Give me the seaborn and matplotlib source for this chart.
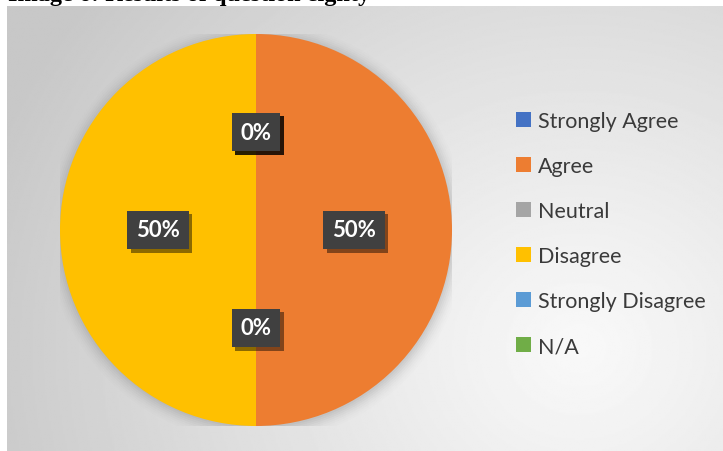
import numpy as np
import matplotlib
matplotlib.use("Agg")
import matplotlib.pyplot as plt
import matplotlib.patheffects as pe
from matplotlib.patches import Patch, Circle
import seaborn as sns

# Survey responses
categories = ["Strongly Agree", "Agree", "Neutral", "Disagree", "Strongly Disagree", "N/A"]
counts = [0, 1, 0, 1, 0, 0]
pct_labels = ["0%", "50%", "0%", "50%", "0%", "0%"]
colors = ["#4472C4", "#ED7D31", "#A5A5A5", "#FFC000", "#5B9BD5", "#70AD47"]
title = "Image 6: Results of question eighty"

sns.set_theme(style="white")
plt.rcParams["font.family"] = ["Lato", "DejaVu Sans"]

W, H = 723, 452
fig = plt.figure(figsize=(W / 100, H / 100), dpi=100)
fig.patch.set_facecolor("white")

# chart frame with radial grey gradient
x0, y0 = 7, 7
bg = fig.add_axes([x0 / W, 0, (W - x0) / W, (H - y0) / H])
bg.set_axis_off()
gx, gy = np.meshgrid(np.linspace(x0, W, 400), np.linspace(y0, H, 300))
cx, cy = 580, 350
d = np.hypot(gx - cx, (gy - cy) * 1.1)
shade = 0.975 - 0.19 * np.clip(d / 620, 0, 1) ** 1.1
bg.imshow(shade, cmap="gray", vmin=0, vmax=1, extent=[0, 1, 0, 1],
          aspect="auto", interpolation="bilinear")
bg.set_xlim(0, 1)
bg.set_ylim(0, 1)

# page caption above the chart frame (runs off the top of the page)
fig.text(8 / W, 1 - 0.5 / H, title, family=["Liberation Serif"], weight="bold",
         fontsize=17.5, va="baseline", ha="left", color="black", zorder=0)

# pie axes: centre (256, 231), radius 196 px
r = 196
pcx, pcy = 256, 231
ax = fig.add_axes([(pcx - r) / W, (H - pcy - r) / H, 2 * r / W, 2 * r / H])
ax.set_axis_off()

# soft shadow around the pie
for k, a in zip(np.linspace(1.07, 1.0, 8), np.linspace(0.006, 0.03, 8)):
    ax.add_patch(Circle((0.005, -0.01), k, color="black", alpha=a, lw=0, zorder=0))

wedges, texts = ax.pie(counts, colors=colors, startangle=90, counterclock=False,
                       radius=1.0, labels=pct_labels, labeldistance=0.5,
                       wedgeprops=dict(linewidth=0, zorder=1))
for t in texts:
    t.set_color("white")
    t.set_fontsize(16)
    t.set_fontweight("bold")
    t.set_ha("center")
    t.set_va("center")
    t.set_zorder(5)
    t.set_bbox(dict(boxstyle="square,pad=0.4", fc="#404040", ec="none"))
    t.get_bbox_patch().set_path_effects(
        [pe.SimplePatchShadow(offset=(2.5, -2.5), shadow_rgbFace="black", alpha=0.45),
         pe.Normal()])
ax.set_xlim(-1, 1)
ax.set_ylim(-1, 1)
ax.set_aspect("equal")

handles = [Patch(facecolor=c, edgecolor="none") for c in colors]
leg = fig.legend(handles, categories, loc="upper left",
                 bbox_to_anchor=(497 / W, 1 - 93 / H), frameon=False,
                 fontsize=15.5, handlelength=0.68, handleheight=0.68,
                 handletextpad=0.32, labelspacing=1.16, labelcolor="#3a3a3a")

fig.savefig("out.png", dpi=100)
